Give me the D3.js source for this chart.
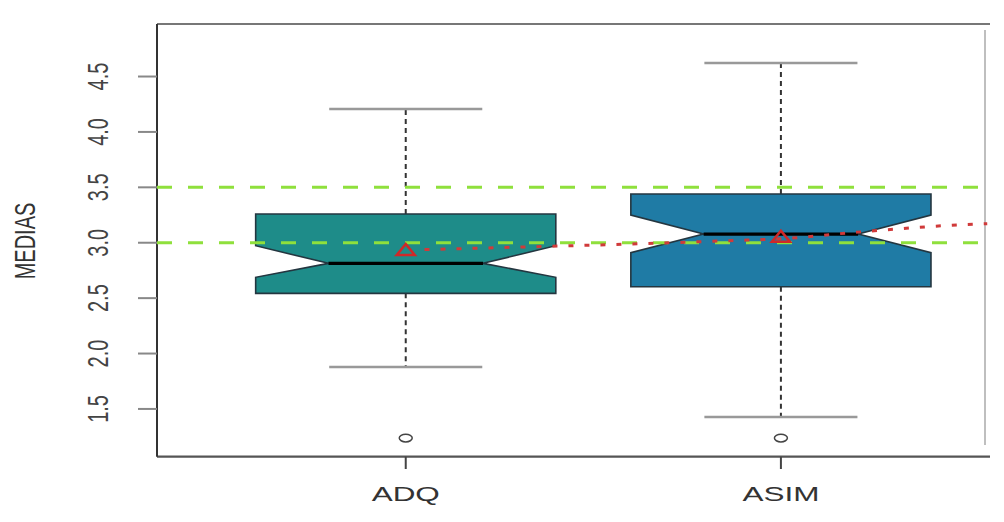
<!DOCTYPE html>
<html><head><meta charset="utf-8">
<script src="https://cdn.jsdelivr.net/npm/d3@7"></script>
<style>body{margin:0;background:#fff}svg{display:block}</style>
</head><body>
<svg id="c" width="1004" height="522"></svg>
<script>
// ---- data ----
const categories = ["ADQ", "ASIM"];
const whiskerLow  = [1.878, 1.427];
const q1          = [2.543, 2.603];
const median      = [2.814, 3.078];
const q3          = [3.259, 3.440];
const whiskerHigh = [4.207, 4.622];
const notchLow    = [2.688, 2.910];
const notchHigh   = [2.973, 3.250];
const means       = [2.934, 3.054];
const outliers    = [[1.237], [1.237]];
const boxColors   = ["#1e8c89", "#1f7ba5"];
const refLines    = [3.0, 3.5];
const trendX      = [1.05, 1.438, 1.598, 1.909, 2.0, 2.184, 2.525, 2.55];
const trendY      = [2.938, 2.973, 2.988, 3.024, 3.035, 3.09, 3.169, 3.172];
const yTicks      = [1.5, 2.0, 2.5, 3.0, 3.5, 4.0, 4.5];
const yLabel      = "MEDIAS";

// ---- layout ----
const svg = d3.select("#c");
const pL = 157, pR = 985, pT = 24, pB = 456.7;
const y = d3.scaleLinear().domain([1.069, 4.974]).range([pB, pT]);
const x = d3.scaleLinear().domain([0.337, 2.544]).range([pL, pR]);
const boxHalf = 0.4;      // in x units
const notchHalf = 0.206;
const capHalf = 0.204;
const sx = 1.5;           // horizontal stretch of the picture
const font = "Liberation Sans, Arial, sans-serif";

// frame
svg.append("line").attr("x1", pL).attr("x2", 990).attr("y1", pT).attr("y2", pT)
  .attr("stroke", "#777").attr("stroke-width", 2.2);
svg.append("line").attr("x1", 985).attr("x2", 985).attr("y1", 30).attr("y2", 445)
  .attr("stroke", "#aaa").attr("stroke-width", 1.5);
svg.append("line").attr("x1", pL).attr("x2", 990).attr("y1", pB).attr("y2", pB)
  .attr("stroke", "#555").attr("stroke-width", 2.2);

// y axis
const yAxis = svg.append("g");
yAxis.append("line").attr("x1", pL).attr("x2", pL).attr("y1", pT).attr("y2", pB)
  .attr("stroke", "#333").attr("stroke-width", 2);
yTicks.forEach(t => {
  yAxis.append("line").attr("x1", 138).attr("x2", pL).attr("y1", y(t)).attr("y2", y(t))
    .attr("stroke", "#888").attr("stroke-width", 2);
  yAxis.append("text")
    .attr("transform", `translate(108,${y(t)}) scale(${sx},1) rotate(-90)`)
    .attr("text-anchor", "middle")
    .attr("font-family", font)
    .attr("font-size", 20).attr("fill", "#444")
    .text(t.toFixed(1));
});
svg.append("text")
  .attr("transform", `translate(35,${241}) scale(${sx},1) rotate(-90)`)
  .attr("text-anchor", "middle")
  .attr("font-family", font)
  .attr("font-size", 20).attr("fill", "#333")
  .text(yLabel);

// x axis ticks & labels
categories.forEach((c, i) => {
  const cx = x(i + 1);
  svg.append("line").attr("x1", cx).attr("x2", cx).attr("y1", pB).attr("y2", 469)
    .attr("stroke", "#444").attr("stroke-width", 2);
  svg.append("text")
    .attr("transform", `translate(${cx},501) scale(${sx},1)`)
    .attr("text-anchor", "middle")
    .attr("font-family", font)
    .attr("font-size", 21).attr("fill", "#333")
    .text(c);
});

// boxes
categories.forEach((c, i) => {
  const p = i + 1;
  const g = svg.append("g");
  g.append("line").attr("x1", x(p)).attr("x2", x(p)).attr("y1", y(q3[i])).attr("y2", y(whiskerHigh[i]))
    .attr("stroke", "#333").attr("stroke-width", 2).attr("stroke-dasharray", "5,4");
  g.append("line").attr("x1", x(p)).attr("x2", x(p)).attr("y1", y(q1[i])).attr("y2", y(whiskerLow[i]))
    .attr("stroke", "#333").attr("stroke-width", 2).attr("stroke-dasharray", "5,4");
  [whiskerHigh[i], whiskerLow[i]].forEach(v => {
    g.append("line").attr("x1", x(p - capHalf)).attr("x2", x(p + capHalf)).attr("y1", y(v)).attr("y2", y(v))
      .attr("stroke", "#999").attr("stroke-width", 2.6);
  });
  const pts = [
    [p - boxHalf, q1[i]], [p - boxHalf, notchLow[i]], [p - notchHalf, median[i]],
    [p - boxHalf, notchHigh[i]], [p - boxHalf, q3[i]], [p + boxHalf, q3[i]],
    [p + boxHalf, notchHigh[i]], [p + notchHalf, median[i]], [p + boxHalf, notchLow[i]],
    [p + boxHalf, q1[i]]
  ].map(d => [x(d[0]), y(d[1])]);
  g.append("polygon").attr("points", pts.map(d => d.join(",")).join(" "))
    .attr("fill", boxColors[i]).attr("stroke", "#243640").attr("stroke-width", 1.6);
  g.append("line").attr("x1", x(p - notchHalf)).attr("x2", x(p + notchHalf))
    .attr("y1", y(median[i])).attr("y2", y(median[i]))
    .attr("stroke", "#000").attr("stroke-width", 3.2);
  outliers[i].forEach(v => {
    g.append("ellipse").attr("cx", x(p)).attr("cy", y(v)).attr("rx", 6.5).attr("ry", 3.8)
      .attr("fill", "none").attr("stroke", "#444").attr("stroke-width", 1.5);
  });
});

// reference lines
refLines.forEach(v => {
  svg.append("line").attr("x1", pL).attr("x2", 985).attr("y1", y(v)).attr("y2", y(v))
    .attr("stroke", "#8fe03c").attr("stroke-width", 3).attr("stroke-dasharray", "15,16");
});

// trend (dotted red)
svg.append("path")
  .datum(trendX.map((d, k) => [d, trendY[k]]))
  .attr("d", d3.line().x(d => x(d[0])).y(d => y(d[1])).curve(d3.curveMonotoneX))
  .attr("fill", "none").attr("stroke", "#d03a3a").attr("stroke-width", 3)
  .attr("stroke-dasharray", "5,11");

// mean triangles
categories.forEach((c, i) => {
  const cx = x(i + 1), cy = y(means[i]);
  svg.append("path")
    .attr("d", `M${cx - 9},${cy + 5} L${cx},${cy - 6} L${cx + 9},${cy + 5} Z`)
    .attr("fill", "none").attr("stroke", "#d02828").attr("stroke-width", 2.6);
});
</script>
</body></html>
